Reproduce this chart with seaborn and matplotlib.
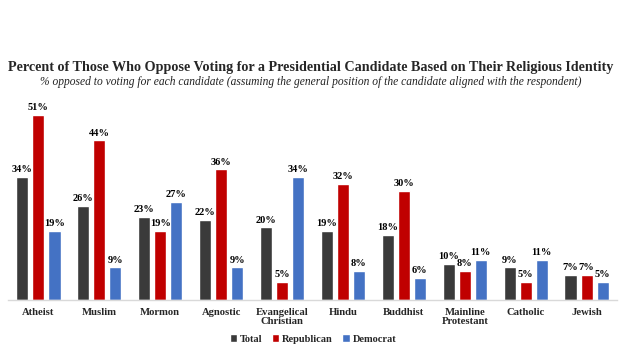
import matplotlib
matplotlib.use("Agg")
import matplotlib.pyplot as plt
import seaborn as sns
import pandas as pd

categories = ["Atheist", "Muslim", "Mormon", "Agnostic", "Evangelical\nChristian",
              "Hindu", "Buddhist", "Mainline\nProtestant", "Catholic", "Jewish"]
total = [34, 26, 23, 22, 20, 19, 18, 10, 9, 7]
republican = [51, 44, 19, 36, 5, 32, 30, 8, 5, 7]
democrat = [19, 9, 27, 9, 34, 8, 6, 11, 11, 5]
series = ["Total", "Republican", "Democrat"]
colors = ["#3A3A3A", "#C00000", "#4472C4"]

title = "Percent of Those Who Oppose Voting for a Presidential Candidate Based on Their Religious Identity"
subtitle = "% opposed to voting for each candidate (assuming the general position of the candidate aligned with the respondent)"

rows = []
for i, c in enumerate(categories):
    for s, vals in zip(series, [total, republican, democrat]):
        rows.append({"category": c, "series": s, "value": vals[i]})
df = pd.DataFrame(rows)

sns.set_theme(style="white")
plt.rcParams["font.family"] = ["Liberation Serif", "DejaVu Serif"]

fig = plt.figure(figsize=(6.24, 3.51), dpi=100)
ax = fig.add_axes([8 / 624, 51 / 351, 609 / 624, 200 / 351])

sns.barplot(data=df, x="category", y="value", hue="series", hue_order=series,
            palette=colors, width=0.79, gap=0.25, saturation=1, ax=ax,
            errorbar=None, legend=True)

for cont in ax.containers:
    ax.bar_label(cont, labels=[f"{int(v)}%" for v in cont.datavalues],
                 padding=2, fontsize=7.5, fontweight="bold", color="black")

ax.set_ylim(0, 55.1)
ax.set_xlim(-0.5, len(categories) - 0.5)
ax.set_xlabel("")
ax.set_ylabel("")
ax.set_yticks([])
for sp in ["top", "right", "left"]:
    ax.spines[sp].set_visible(False)
ax.spines["bottom"].set_color("#D9D9D9")
ax.spines["bottom"].set_linewidth(1)
ax.tick_params(axis="x", length=0, pad=5.5)
for lab in ax.get_xticklabels():
    lab.set_fontsize(7.7)
    lab.set_fontweight("bold")
    lab.set_linespacing(1.0)

leg = ax.legend(loc="center", bbox_to_anchor=(313 / 624, 1 - 339 / 351),
                bbox_transform=fig.transFigure, ncol=3, frameon=False,
                fontsize=7.5, handlelength=0.7, handleheight=0.7,
                handletextpad=0.3, columnspacing=0.9)
for t in leg.get_texts():
    t.set_fontweight("bold")

fig.text(311 / 624, 1 - 68 / 351, title, ha="center", va="center",
         fontsize=10.2, fontweight="bold")
fig.text(311 / 624, 1 - 82 / 351, subtitle, ha="center", va="center",
         fontsize=8.3, style="italic", color="#222222")

fig.savefig("out.png", dpi=100)
